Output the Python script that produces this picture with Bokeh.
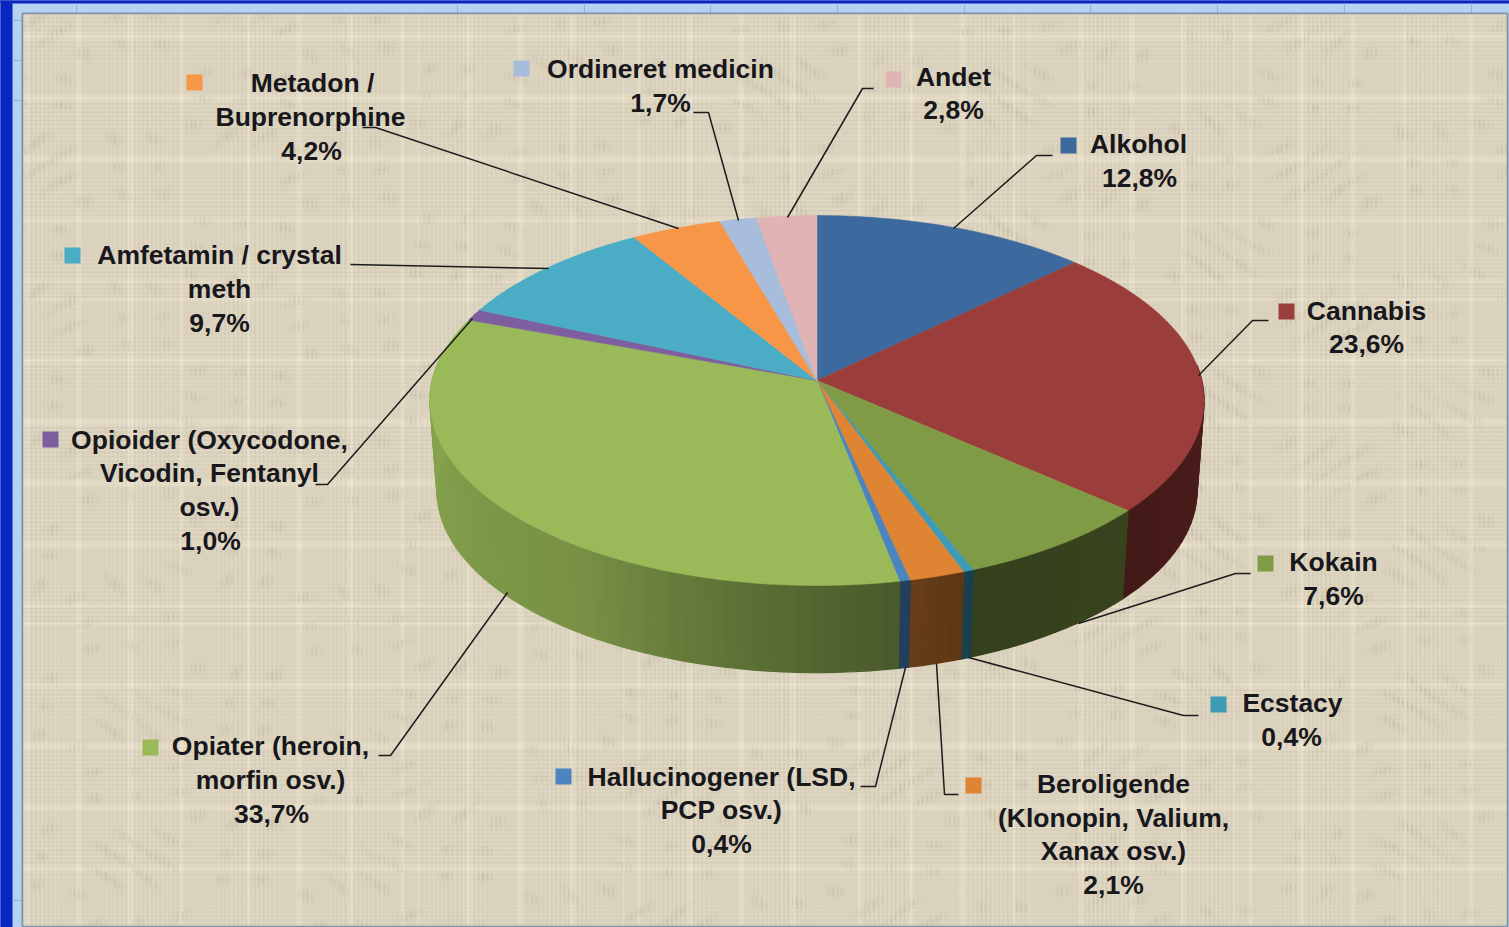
import numpy as np
from bokeh.plotting import figure
from bokeh.embed import file_html
from bokeh.resources import INLINE
from bokeh.core.properties import value as bv

# ---- data ----
categories = ["Alkohol", "Cannabis", "Kokain", "Ecstacy", "Beroligende", "Hallucinogener",
              "Opiater", "Opioider", "Amfetamin", "Metadon", "Ordineret", "Andet"]
values = [12.8, 23.6, 7.6, 0.4, 2.1, 0.4, 33.7, 1.0, 9.7, 4.2, 1.7, 2.8]
colors = ["#3d6a9e", "#9b3d3a", "#809b45", "#3f9ab5", "#de8432", "#4a85c0",
          "#9aba59", "#7d5fa0", "#4aacc5", "#f79646", "#a8bcdb", "#e0b4b4"]
label_lines = [
    ["Alkohol", "12,8%"],
    ["Cannabis", "23,6%"],
    ["Kokain", "7,6%"],
    ["Ecstacy", "0,4%"],
    ["Beroligende", "(Klonopin, Valium,", "Xanax osv.)", "2,1%"],
    ["Hallucinogener (LSD,", "PCP osv.)", "0,4%"],
    ["Opiater (heroin,", "morfin osv.)", "33,7%"],
    ["Opioider (Oxycodone,", "Vicodin, Fentanyl", "osv.)", "1,0%"],
    ["Amfetamin / crystal", "meth", "9,7%"],
    ["Metadon /", "Buprenorphine", "4,2%"],
    ["Ordineret medicin", "1,7%"],
    ["Andet", "2,8%"],
]

# ---- layout (pixel space) ----
W, H = 1509, 927
CX, TOP_CY, TOP_RX, TOP_RY = 816.5, 400.0, 387.0, 185.0
APEX_Y = 380.0
BOT_CY, BOT_RX, BOT_RY = 490.0, 380.0, 182.0
label_pos = [
    [(1138, 143), (1139, 177)],
    [(1366, 310), (1366, 343)],
    [(1333, 561), (1333, 595)],
    [(1292, 702), (1291, 736)],
    [(1113, 783), (1113, 817), (1113, 850), (1113, 884)],
    [(721, 776), (721, 809), (721, 843)],
    [(270, 745), (270, 779), (271, 813)],
    [(209, 439), (209, 472), (209, 506), (210, 540)],
    [(219, 254), (219, 288), (219, 322)],
    [(312, 82), (310, 116), (311, 150)],
    [(660, 68), (660, 102)],
    [(953, 76), (953, 109)],
]
swatch_pos = [(1068, 145), (1286, 311), (1265, 563), (1218, 704), (973, 785), (563, 776),
              (150, 747), (50, 439), (72, 255), (194, 82), (521, 68), (893, 79)]
leaders = [
    [(953, 228), (1036, 155), (1052, 155)],
    [(1198, 375), (1252, 320), (1268, 320)],
    [(1078, 623), (1235, 573), (1250, 573)],
    [(968, 657), (1183, 715), (1198, 715)],
    [(936, 663), (944, 794), (958, 794)],
    [(905, 667), (875, 786), (860, 786)],
    [(507, 592), (390, 755), (378, 755)],
    [(472, 318), (327, 484), (315, 484)],
    [(548, 268), (350, 264)],
    [(678, 228), (375, 127), (362, 127)],
    [(738, 220), (708, 112), (693, 112)],
    [(787, 217), (862, 88), (873, 88)],
]


def warp(theta_deg):
    """Perspective of the tilted pie: data angle to ellipse angle."""
    t = np.asarray(theta_deg, dtype=float)
    return np.radians(t - 6.0 * np.sin(np.radians(t)))


def shade(theta_deg):
    return np.interp(theta_deg, [85, 130, 160, 172, 197, 214, 251, 275],
                     [.50, .44, .42, .50, .65, .78, .85, .88])


def darker(hex_color, f):
    r, g, b = (int(hex_color[i:i + 2], 16) for i in (1, 3, 5))
    return "#%02x%02x%02x" % (int(r * f), int(g * f), int(b * f))


p = figure(width=W, height=H, x_range=(0, W), y_range=(H, 0), output_backend="svg",
           toolbar_location=None, x_axis_location=None, y_axis_location=None,
           min_border=0, outline_line_color=None, background_fill_color="#b5d2f2",
           border_fill_color="#b5d2f2")
p.grid.visible = False

# page frame: saturated blue bands, spreadsheet cell lines, chart panel
p.quad(left=[0, 0], right=[12, W], top=[0, 0], bottom=[H, 3], color="#0a25c0", line_color=None)
p.segment(x0=[76, 457, 584, 710, 837, 964, 1090, 1217, 1344, 1471],
          y0=[3] * 10, x1=[76, 457, 584, 710, 837, 964, 1090, 1217, 1344, 1471], y1=[14] * 10,
          line_color="#8fb2d8", line_width=1)
p.segment(x0=[12] * 4, y0=[20, 60, 100, 900], x1=[22] * 4, y1=[20, 60, 100, 900],
          line_color="#8fb2d8", line_width=1)
p.quad(left=[22], right=[1507], top=[13], bottom=[926], fill_color="#e0d8c3",
       line_color="#7f93a8", line_width=2)

# burlap weave of the chart panel
px_w, px_h = 1483, 911
xx = np.arange(px_w, dtype=float)
yy = np.arange(px_h, dtype=float)
cw = np.sin(2 * np.pi * xx / 4.3) * (.55 + .45 * np.sin(xx / 17.0 + 1)) \
    + 1.1 * (np.sin(xx * .37) + np.sin(xx * .113 + 2) > 1.45)
rw = np.sin(2 * np.pi * yy / 4.1) * (.55 + .45 * np.sin(yy / 13.0)) \
    + 1.1 * (np.sin(yy * .31 + 1) + np.sin(yy * .097) > 1.45)
C, R = np.meshgrid(cw, rw)
X, Y = np.meshgrid(xx, yy)
fleck = (np.sin(X * .083 + np.sin(Y * .041) * 3) * np.sin(Y * .127 + np.sin(X * .029) * 3))
tex = 7.0 * (C + R) - 30.0 * np.clip(fleck - .55, 0, 1) * (np.sin(X * 1.4) > 0)
tr = np.clip(220 + tex, 0, 255).astype(np.uint32)
tg = np.clip(211 + tex, 0, 255).astype(np.uint32)
tb = np.clip(191 + tex, 0, 255).astype(np.uint32)
img = (255 << 24) | (tb << 16) | (tg << 8) | tr
p.image_rgba(image=[img], x=23, y=14, dw=px_w, dh=px_h)

# pie geometry from the values
edges = np.concatenate([[0.0], np.cumsum(values)]) * 3.6

# side wall
sx, sy, sc = [], [], []
for a0, a1, col in zip(edges[:-1], edges[1:], colors):
    lo, hi = max(a0, 85.0), min(a1, 278.0)
    if hi <= lo:
        continue
    n = max(1, int(np.ceil((hi - lo) / 2)))
    steps = np.linspace(lo, hi, n + 1)
    for s0, s1 in zip(steps[:-1], steps[1:]):
        t = warp([s0, s1])
        tx = CX + TOP_RX * np.sin(t)
        ty = TOP_CY - TOP_RY * np.cos(t)
        bx = CX + BOT_RX * np.sin(t)
        by = BOT_CY - BOT_RY * np.cos(t)
        sx.append([tx[0], tx[1], bx[1], bx[0]])
        sy.append([ty[0], ty[1], by[1], by[0]])
        sc.append(darker(col, float(shade((s0 + s1) / 2))))
p.patches(sx, sy, fill_color=sc, line_color=sc, line_width=1.4)

# top face
top_x, top_y = [], []
for a0, a1 in zip(edges[:-1], edges[1:]):
    t = warp(np.linspace(a0, a1, max(3, int(a1 - a0) * 2 + 2)))
    top_x.append(np.concatenate([[CX], CX + TOP_RX * np.sin(t)]).tolist())
    top_y.append(np.concatenate([[APEX_Y], TOP_CY - TOP_RY * np.cos(t)]).tolist())
p.patches(top_x, top_y, fill_color=colors, line_color=colors, line_width=0.5)

# leader lines
p.multi_line([[q[0] for q in l] for l in leaders], [[q[1] for q in l] for l in leaders],
             line_color="#1c1c1c", line_width=1.5)

# legend swatches
p.rect(x=[q[0] for q in swatch_pos], y=[q[1] for q in swatch_pos], width=16, height=16,
       fill_color=colors, line_color=None)

# labels
tx, ty, tt = [], [], []
for lines, pos in zip(label_lines, label_pos):
    for s, (x, y) in zip(lines, pos):
        tx.append(x); ty.append(y); tt.append(s)
p.text(x=tx, y=ty, text=tt, text_align="center", text_baseline="middle",
       text_font=bv("Liberation Sans"), text_font_style="bold", text_font_size="26.5px",
       text_color="#17171c")

html = file_html(p, INLINE)
html = html.replace("<head>", "<head><style>html,body{margin:0;overflow:hidden;background:#0a25c0}</style>", 1)
open("out.html", "w").write(html)
